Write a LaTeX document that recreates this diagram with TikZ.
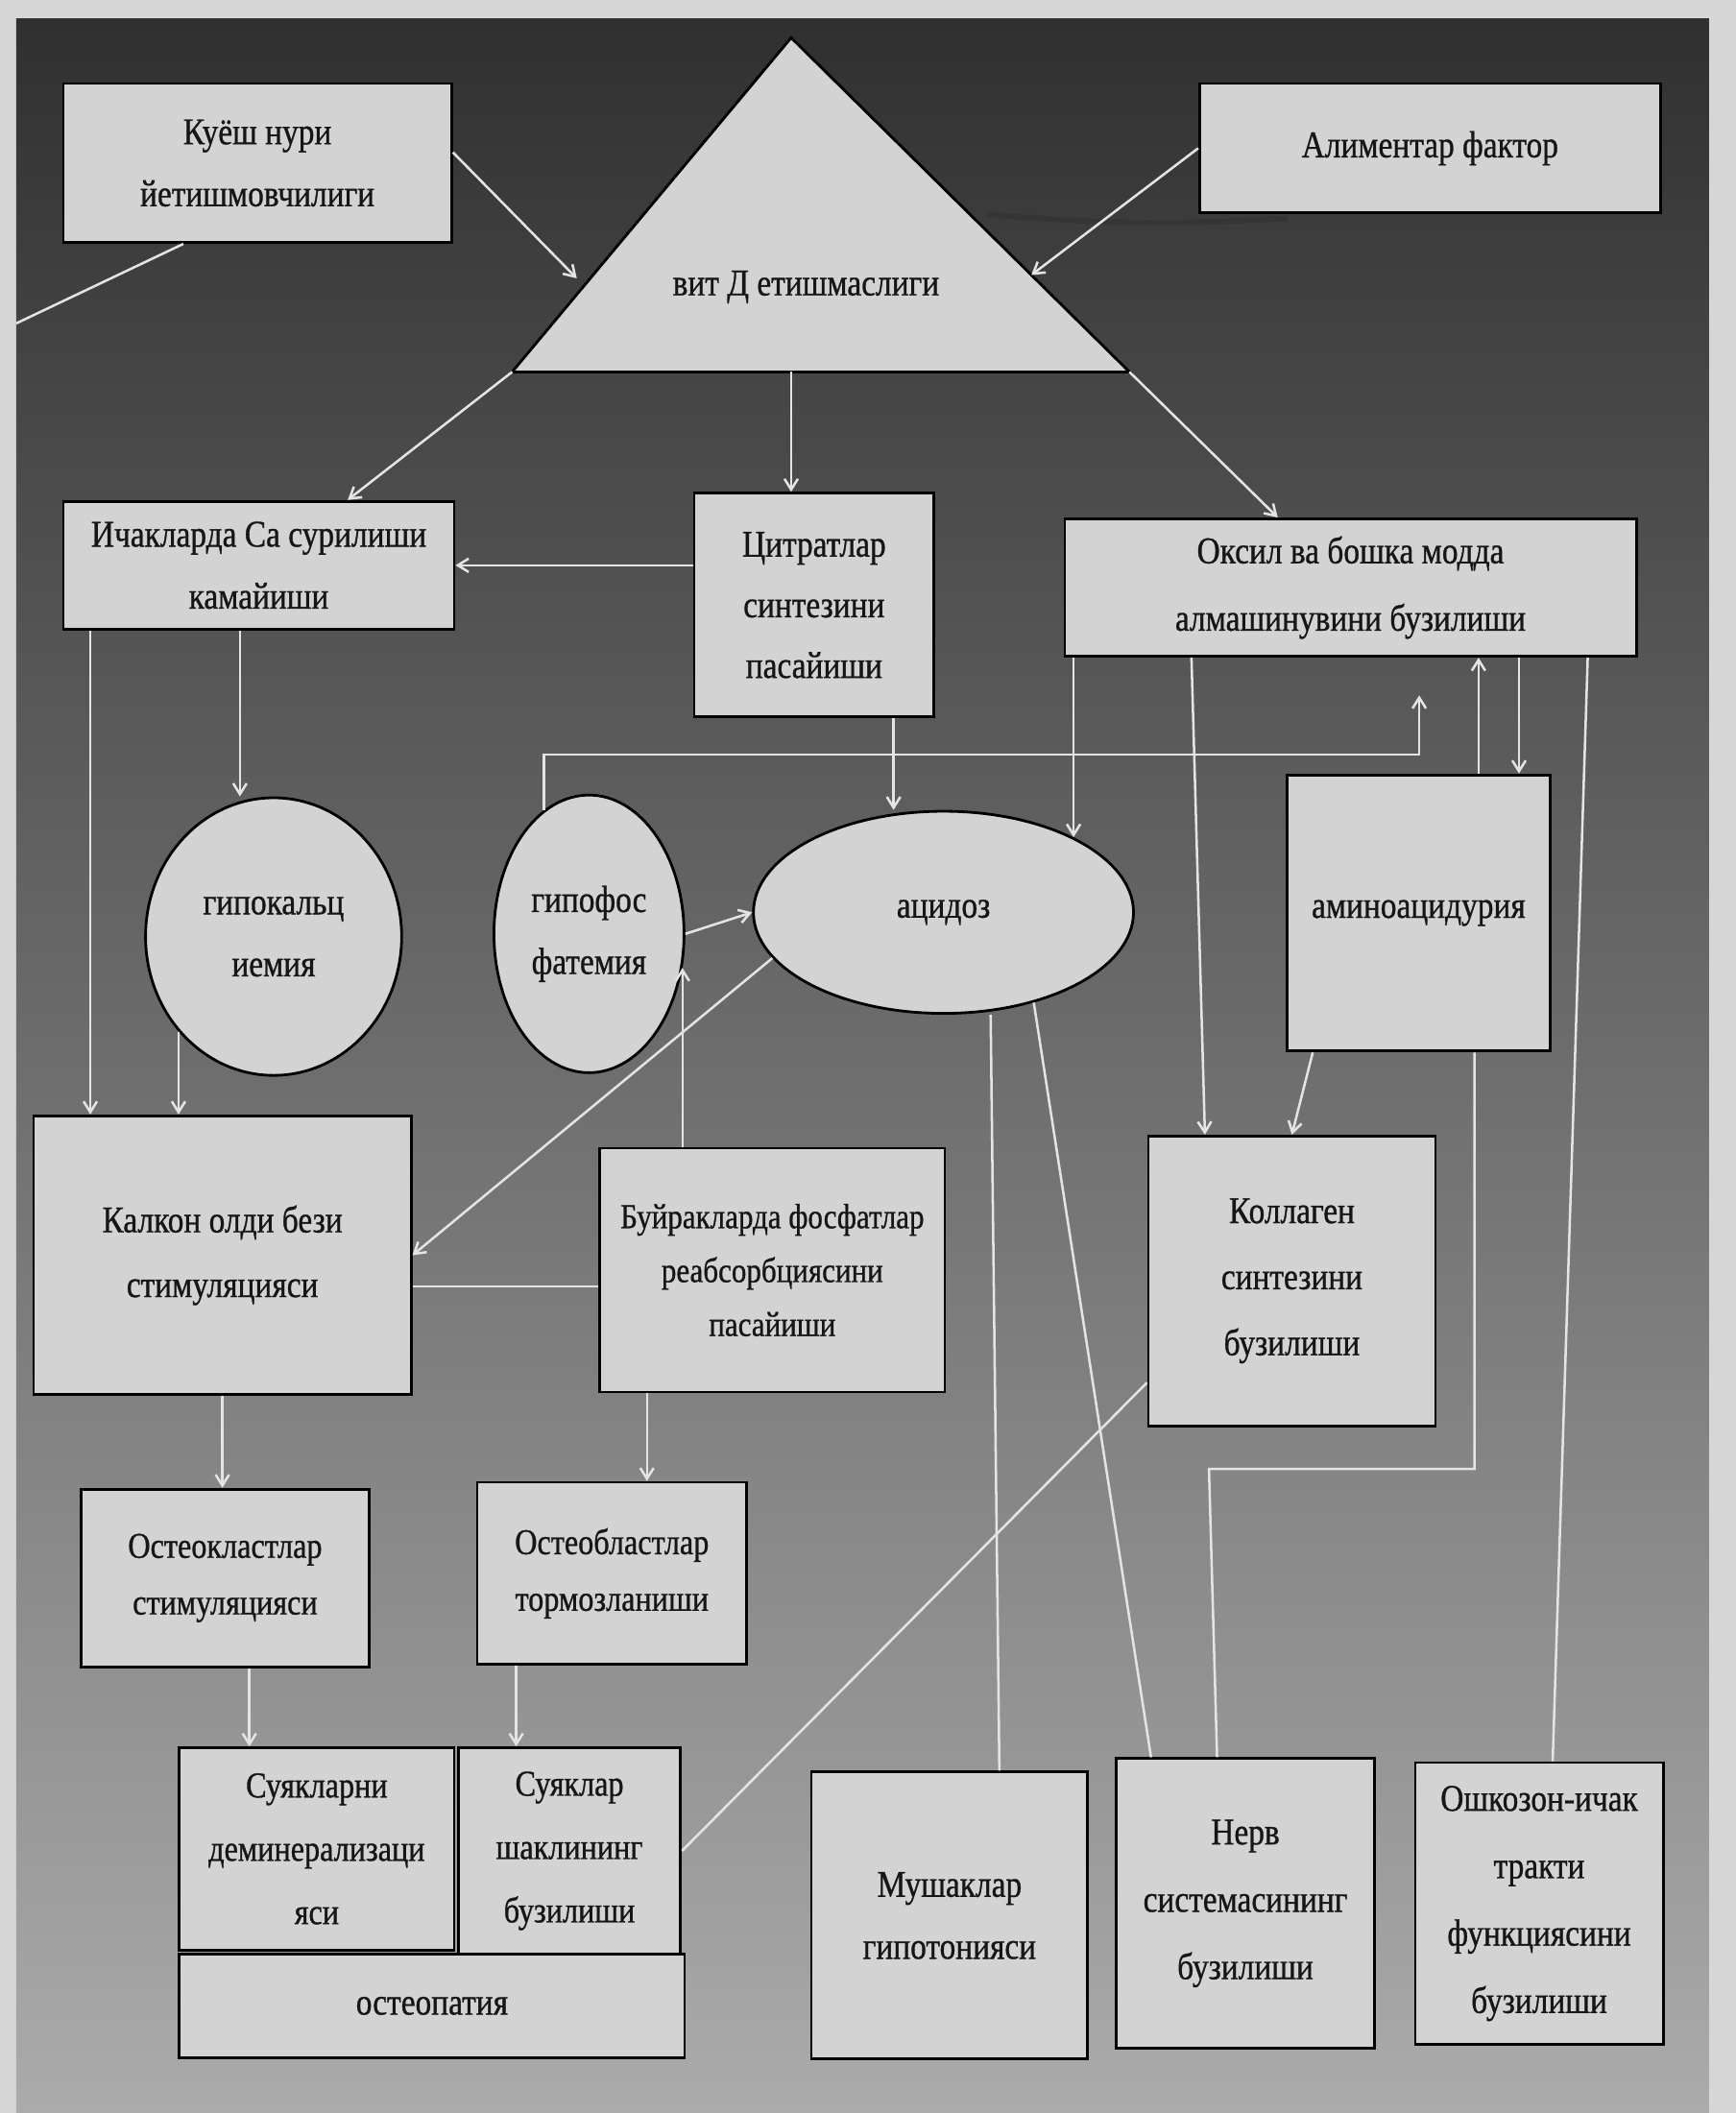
\documentclass[tikz,border=0pt]{standalone}
\usepackage{fontspec}
\setmainfont[FakeStretch=0.85,FakeBold=0.8]{Liberation Serif}
\usetikzlibrary{arrows.meta,calc,shapes.geometric}

\definecolor{margin}{HTML}{D6D6D6}
\definecolor{paneltop}{HTML}{303030}
\definecolor{panelmid}{HTML}{6C6C6C}
\definecolor{panelbot}{HTML}{ABABAB}
\definecolor{boxgray}{HTML}{D3D3D3}
\definecolor{ink}{HTML}{161616}
\definecolor{linegray}{HTML}{E4E4E4}

\tikzset{
	box/.style={draw=black,line width=2pt,fill=boxgray,text=ink,align=center,inner sep=2pt,font=\fontsize{28}{46}\selectfont},
	oval/.style={box,ellipse,inner sep=0pt},
	conn/.style={draw=linegray,line width=1.8pt},
	arr/.style={conn,-{Straight Barb[length=8pt,width=10pt]}},
	smudge/.style={draw=black!80,line width=4pt,opacity=0.7}
}

\begin{document}
\begin{tikzpicture}[x=1pt,y=-1pt]
			\useasboundingbox (0,0) rectangle (1288,1568);
			\fill[margin] (0,0) rectangle (1288,1568);
			\shade[top color=paneltop,middle color=panelmid,bottom color=panelbot] (12,14) rectangle (1268,1568);

			% vitamin D triangle
			\coordinate (apex) at (587,28);
			\coordinate (bl) at (380,276);
			\coordinate (br) at (838,276);
			\filldraw[draw=black,line width=2pt,fill=boxgray] (apex) -- (bl) -- (br) -- cycle;
			\node[text=ink,font=\fontsize{28}{46}\selectfont] (vitd) at (598,213) {вит Д етишмаслиги};

			\node[box,minimum width=288pt,minimum height=118pt] (sun) at (191,121) {Куёш нури\\йетишмовчилиги};
			\node[box,minimum width=342pt,minimum height=96pt] (alim) at (1061,110) {Алиментар фактор};
			\node[box,minimum width=290pt,minimum height=95pt] (ichak) at (192,419.5) {Ичакларда Са сурилиши\\камайиши};
			\node[box,minimum width=178pt,minimum height=166pt,font=\fontsize{28}{45}\selectfont] (citr) at (604,449) {Цитратлар\\синтезини\\пасайиши};
			\node[box,minimum width=424pt,minimum height=102pt,font=\fontsize{28}{50}\selectfont] (oqsil) at (1002,436) {Оксил ва бошка модда\\алмашинувини бузилиши};

			\node[oval,minimum width=190pt,minimum height=206pt] (hypoca) at (203,695) {гипокальц\\иемия};
			\node[oval,minimum width=141pt,minimum height=206pt] (hypoph) at (437,693) {гипофос\\фатемия};
			\node[oval,minimum width=282pt,minimum height=150pt] (acid) at (700,677) {ацидоз};
			\node[box,minimum width=195pt,minimum height=205pt] (amino) at (1052.5,677.5) {аминоацидурия};

			\node[box,minimum width=280pt,minimum height=207pt,font=\fontsize{28}{48}\selectfont] (qalqon) at (165,931.5) {Калкон олди бези\\стимуляцияси};
			\node[box,minimum width=256pt,minimum height=181pt,font=\fontsize{26}{40}\selectfont] (buyrak) at (573,942.5) {Буйракларда фосфатлар\\реабсорбциясини\\пасайиши};
			\node[box,minimum width=213pt,minimum height=215pt,font=\fontsize{28}{49}\selectfont] (kollag) at (958.5,950.5) {Коллаген\\синтезини\\бузилиши};

			\node[box,minimum width=214pt,minimum height=132pt,font=\fontsize{27}{42}\selectfont] (osteokl) at (167,1171) {Остеокластлар\\стимуляцияси};
			\node[box,minimum width=200pt,minimum height=135pt,font=\fontsize{27}{42}\selectfont] (osteobl) at (454,1167.5) {Остеобластлар\\тормозланиши};

			\node[box,minimum width=204pt,minimum height=150pt,font=\fontsize{27}{47}\selectfont] (demin) at (235,1372) {Суякларни\\деминерализаци\\яси};
			\node[box,minimum width=165pt,minimum height=153pt,font=\fontsize{27}{47}\selectfont] (shakl) at (422.5,1373.5) {Суяклар\\шаклининг\\бузилиши};
			\node[box,minimum width=375pt,minimum height=77pt] (osteop) at (320.5,1488.5) {остеопатия};
			\node[box,minimum width=205pt,minimum height=213pt] (mushak) at (704.5,1421.5) {Мушаклар\\гипотонияси};
			\node[box,minimum width=192pt,minimum height=215pt,font=\fontsize{28}{50}\selectfont] (nerv) at (924,1412.5) {Нерв\\системасининг\\бузилиши};
			\node[box,minimum width=184pt,minimum height=209pt,font=\fontsize{28}{50}\selectfont] (oshq) at (1142,1412.5) {Ошкозон-ичак\\тракти\\функциясини\\бузилиши};

			\coordinate (edge) at (12,240);
			\coordinate (smear) at (955,162);
			\coordinate (fb) at (1053,560);
			\coordinate (nb) at (897,1090);

			% connectors
			\draw[smudge] ($(apex)!0.52!(br)+(14,2)$) to[bend right=4] (smear);
			\draw[arr] ([yshift=8pt]sun.east) -- ($(apex)!0.72!(bl)+(-10,0)$);
			\draw[arr] (alim.west) -- ($(apex)!0.71!(br)$);
			\draw[conn] ([xshift=-55pt]sun.south) -- (edge);
			\draw[arr] (bl) -- ([xshift=66pt]ichak.north);
			\draw[arr] (apex |- bl) -- (apex |- citr.north);
			\draw[arr] (br) -- ([xshift=-54pt]oqsil.north);
			\draw[arr] (ichak.east -| citr.west) -- (ichak.east);
			\draw[arr] ([xshift=-14pt]ichak.south) -- ([xshift=-14pt]ichak.south |- hypoca.north);
			\draw[arr] ([xshift=-125pt]ichak.south) -- ([xshift=-125pt]ichak.south |- qalqon.north);
			\draw[arr] (hypoca.225) -- (hypoca.225 |- qalqon.north);
			\draw[arr] ([xshift=59pt]citr.south) -- ([xshift=59pt]citr.south |- acid.north);
			\draw[arr] (hypoph.110) |- (fb) -- ($(oqsil.south -| fb)+(0,28)$);
			\draw[arr] (oqsil.south -| acid.30) -- (acid.30);
			\draw[arr] ([xshift=95pt]oqsil.south west) -- ([xshift=43pt]kollag.north west);
			\draw[arr] ([xshift=143pt]amino.north west) -- ([xshift=143pt]amino.north west |- oqsil.south);
			\draw[arr] ($(oqsil.south west)+(338,0)$) -- ($(amino.north west)+(173,0)$);
			\draw[conn] ([xshift=-37pt]oqsil.south east) -- ([xshift=10pt]oshq.north);
			\draw[arr] (hypoph.east) -- (acid.west);
			\draw[arr] (acid.195) -- (qalqon.east);
			\draw[arr] (buyrak.north -| hypoph.340) -- (hypoph.340);
			\draw[conn] ($(buyrak.west)+(0,12)$) -- ($(buyrak.west -| qalqon.east)+(0,12)$);
			\draw[conn] ([xshift=35pt]acid.south) -- ([xshift=37pt]mushak.north);
			\draw[conn] (acid.-45) -- ([xshift=27pt]nerv.north west);
			\draw[arr] ([xshift=20pt]amino.south west) -- (kollag.north);
			\draw[conn] ([xshift=140pt]amino.south west) |- (nb) -- ([xshift=6pt]nb |- nerv.north);
			\draw[conn] ($(kollag.south west)+(0,-33)$) -- (shakl.east);
			\draw[arr] (qalqon.south) -- (qalqon.south |- osteokl.north);
			\draw[arr] ([xshift=-93pt]buyrak.south) -- ([xshift=-93pt]buyrak.south |- osteobl.north);
			\draw[arr] ([xshift=18pt]osteokl.south) -- ([xshift=18pt]osteokl.south |- demin.north);
			\draw[arr] ([xshift=-71pt]osteobl.south) -- ([xshift=-71pt]osteobl.south |- shakl.north);
		\end{tikzpicture}
\end{document}
